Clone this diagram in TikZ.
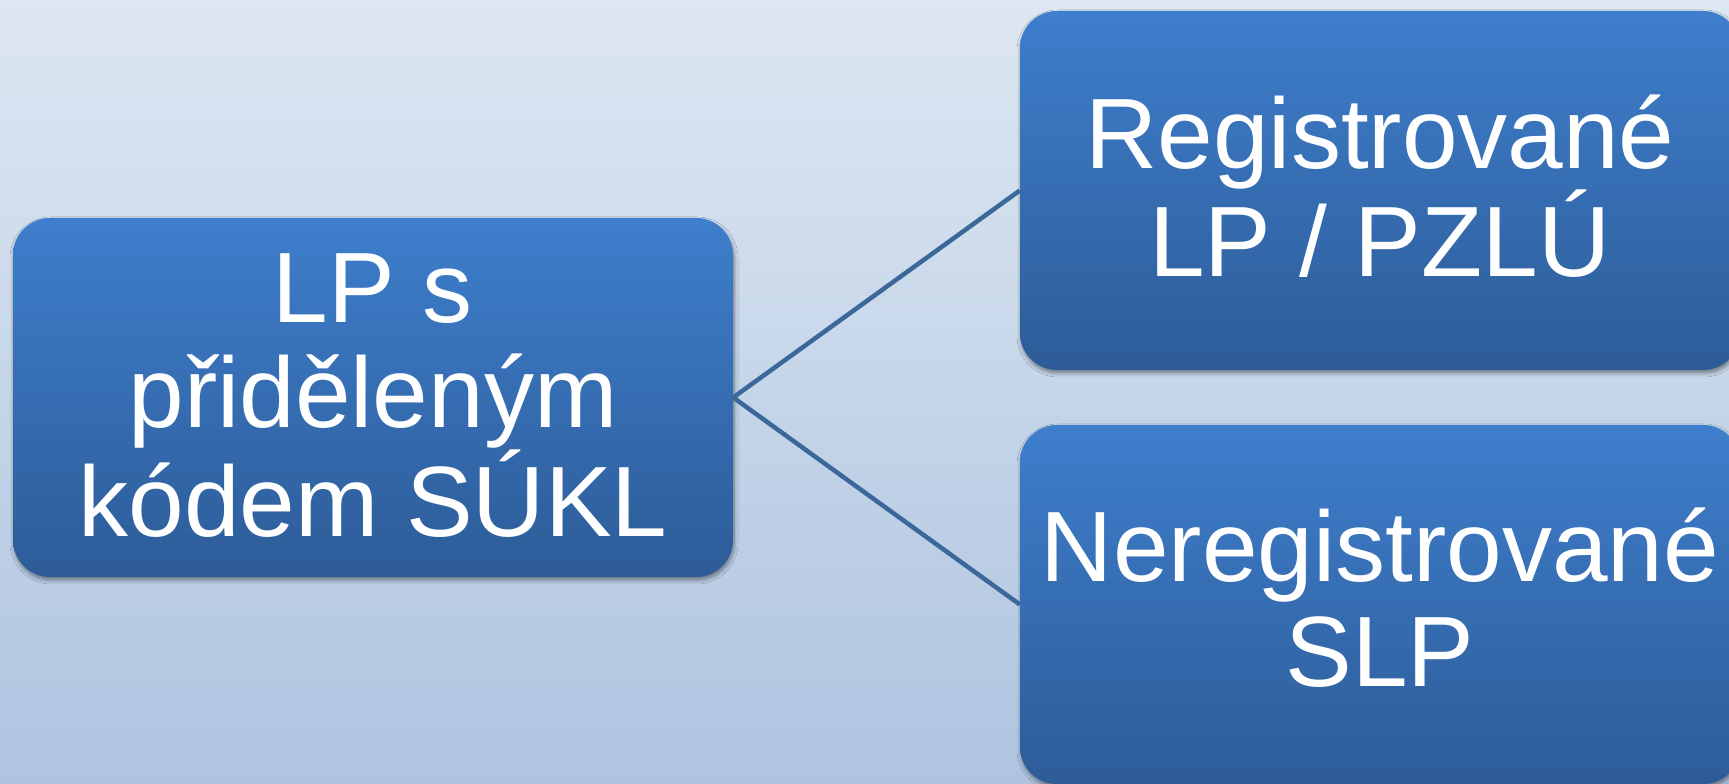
\documentclass[tikz,border=0pt]{standalone}
\usepackage{fontspec}
\setmainfont{Liberation Sans}
\usetikzlibrary{shadows.blur}
\definecolor{bgtop}{HTML}{DDE7F2}
\definecolor{bgbot}{HTML}{AEC4E0}
\definecolor{boxtop}{HTML}{3E7ECC}
\definecolor{boxbot}{HTML}{2D5C98}
\definecolor{linkc}{HTML}{3C679B}
\tikzset{
  bluebox/.style={rectangle, rounded corners=37pt, minimum width=720pt,
    minimum height=359pt, inner sep=0pt, top color=boxtop, bottom color=boxbot,
    blur shadow={shadow xshift=1pt, shadow yshift=-3pt, shadow blur steps=6,
      shadow blur radius=4pt, shadow opacity=45}},
  boxtext/.style={text=white, align=center, inner sep=0pt,
    font=\fontsize{100}{105}\selectfont},
  link/.style={draw=linkc, line width=4.5pt}
}
\begin{document}
\begin{tikzpicture}[x=1pt,y=1pt]
\useasboundingbox (0,0) rectangle (1729,784);
\shade[top color=bgtop, bottom color=bgbot] (0,0) rectangle (1729,784);
\node[bluebox] (src) at (373,386.5) {};
\node[bluebox] (reg) at (1380,593.5) {};
\node[bluebox] (nreg) at (1380,179.5) {};
\draw[link] (src.east) -- (reg.west);
\draw[link] (src.east) -- (nreg.west);
\node[boxtext, yshift=2pt] (srct) at (src.center) {LP s\\přiděleným\\kódem SÚKL};
\node[boxtext, yshift=4.5pt] (regt) at (reg.center) {Registrované\\LP / PZLÚ};
\node[boxtext, yshift=7pt] (nregt) at (nreg.center) {Neregistrované\\SLP};
\end{tikzpicture}
\end{document}
